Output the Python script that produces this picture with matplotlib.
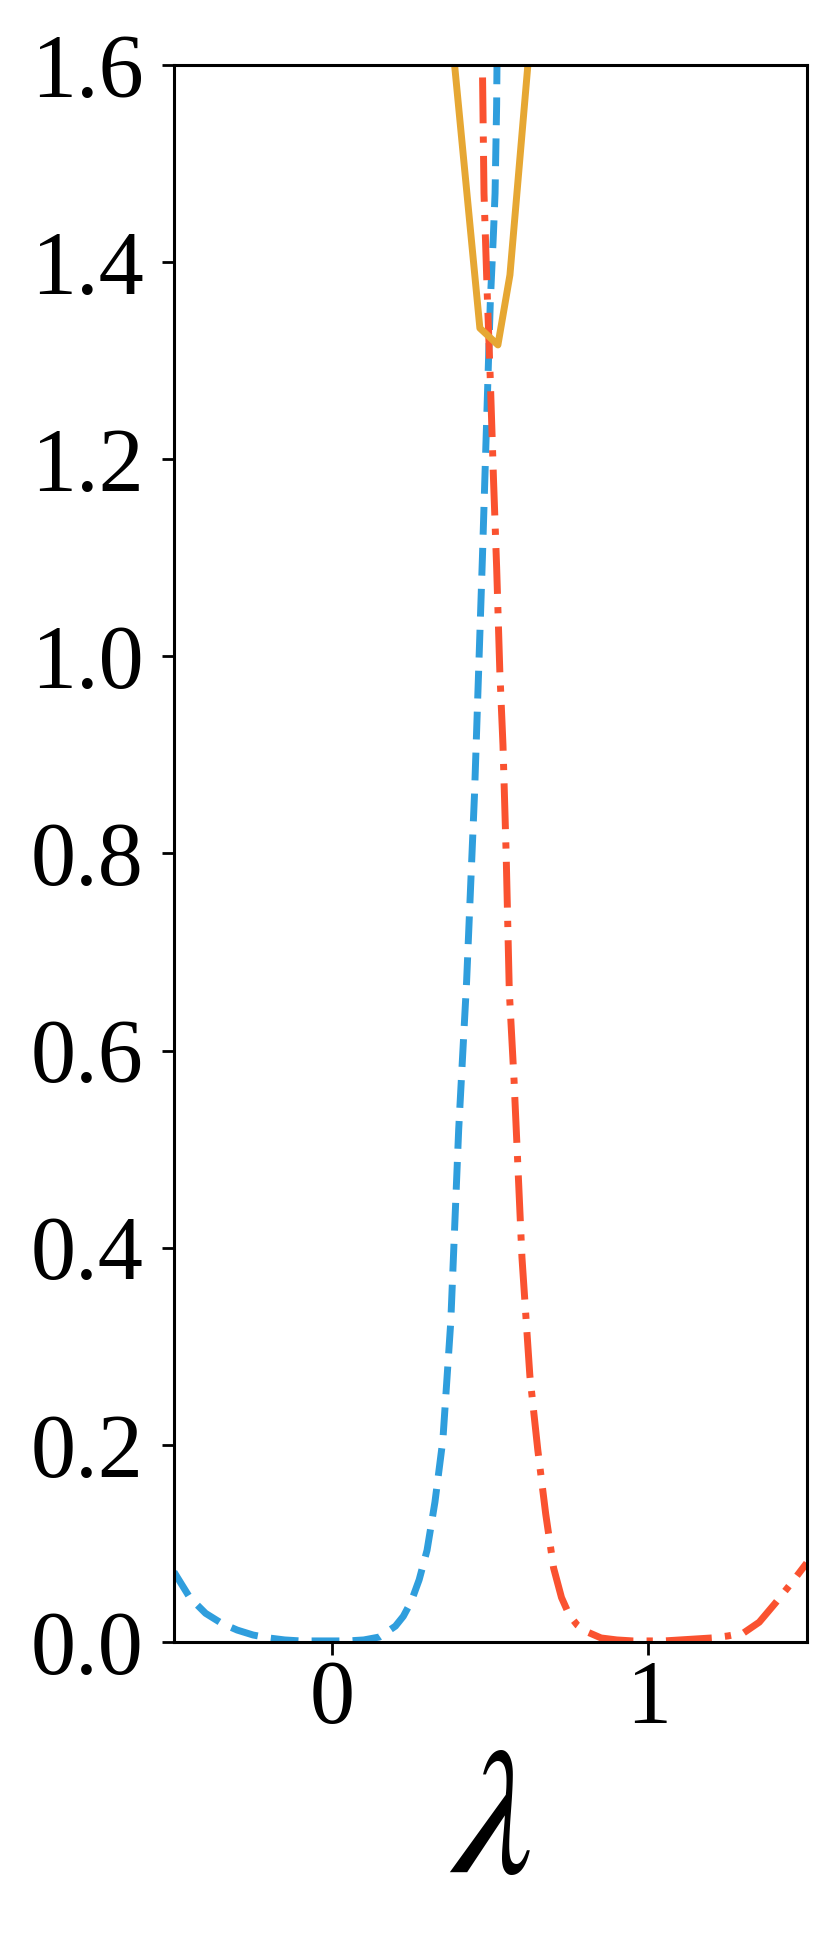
import numpy as np
import matplotlib
matplotlib.use('Agg')
import matplotlib.pyplot as plt

# loss along the path, three curves
lam_blue = [-0.5, -0.45, -0.4, -0.35, -0.3, -0.25, -0.2, -0.15, -0.1, -0.05, 0.0, 0.05,
            0.1, 0.15, 0.2, 0.225, 0.25, 0.275, 0.3, 0.325, 0.35, 0.375, 0.4, 0.425,
            0.45, 0.475, 0.5, 0.51, 0.515, 0.52, 0.525]
loss_blue = [0.071, 0.045, 0.029, 0.019, 0.012, 0.007, 0.004, 0.002, 0.001, 0.001, 0.001, 0.001,
             0.002, 0.005, 0.016, 0.026, 0.041, 0.063, 0.093, 0.142, 0.205, 0.325, 0.52, 0.67,
             0.86, 1.10, 1.36, 1.43, 1.47, 1.56, 1.75]

lam_red = [0.47, 0.475, 0.48, 0.49, 0.5, 0.51, 0.52, 0.53, 0.54, 0.55, 0.56, 0.575, 0.6,
           0.625, 0.65, 0.675, 0.7, 0.725, 0.75, 0.775, 0.8, 0.85, 0.9, 0.95, 1.0, 1.05,
           1.1, 1.15, 1.2, 1.25, 1.3, 1.35, 1.4, 1.45, 1.5]
loss_red = [1.75, 1.60, 1.47, 1.37, 1.28, 1.18, 1.09, 0.985, 0.91, 0.80, 0.66, 0.57, 0.39,
            0.27, 0.195, 0.13, 0.075, 0.045, 0.027, 0.017, 0.011, 0.004, 0.002, 0.001, 0.001, 0.001,
            0.002, 0.003, 0.004, 0.006, 0.009, 0.02, 0.039, 0.059, 0.08]

lam_gold = [0.37, 0.467, 0.524, 0.562, 0.64]
loss_gold = [1.657, 1.333, 1.316, 1.387, 1.68]

yticks = [0.0, 0.2, 0.4, 0.6, 0.8, 1.0, 1.2, 1.4, 1.6]
xticks = [0, 1]

plt.rcParams['font.family'] = ['Liberation Serif', 'DejaVu Serif']
plt.rcParams['mathtext.fontset'] = 'stix'

fig = plt.figure(figsize=(8.3, 19.47), dpi=100)
ax = fig.add_axes([0.2096, 0.1567, 0.7623, 0.8099])

ax.plot(lam_blue, loss_blue, color='#2F9EDD', lw=5.0, dashes=(4.0, 1.9))
ax.plot(lam_red, loss_red, color='#FA5230', lw=5.0, dashes=(6.6, 1.9, 0.9, 1.9))
ax.plot(lam_gold, loss_gold, color='#E6A733', lw=5.0)

ax.set_xlim(-0.5, 1.5)
ax.set_ylim(0, 1.6)
ax.set_xticks(xticks)
ax.set_xticklabels([str(t) for t in xticks])
ax.set_yticks(yticks)
ax.set_yticklabels(['%.1f' % t for t in yticks])
ax.tick_params(length=9, width=2, labelsize=65)
ax.tick_params(axis='y', pad=13)
ax.tick_params(axis='x', pad=4)
for s in ax.spines.values():
    s.set_linewidth(2.2)
ax.set_xlabel(r'$\lambda$', fontsize=130, labelpad=4)

fig.savefig('out.png', dpi=100)
